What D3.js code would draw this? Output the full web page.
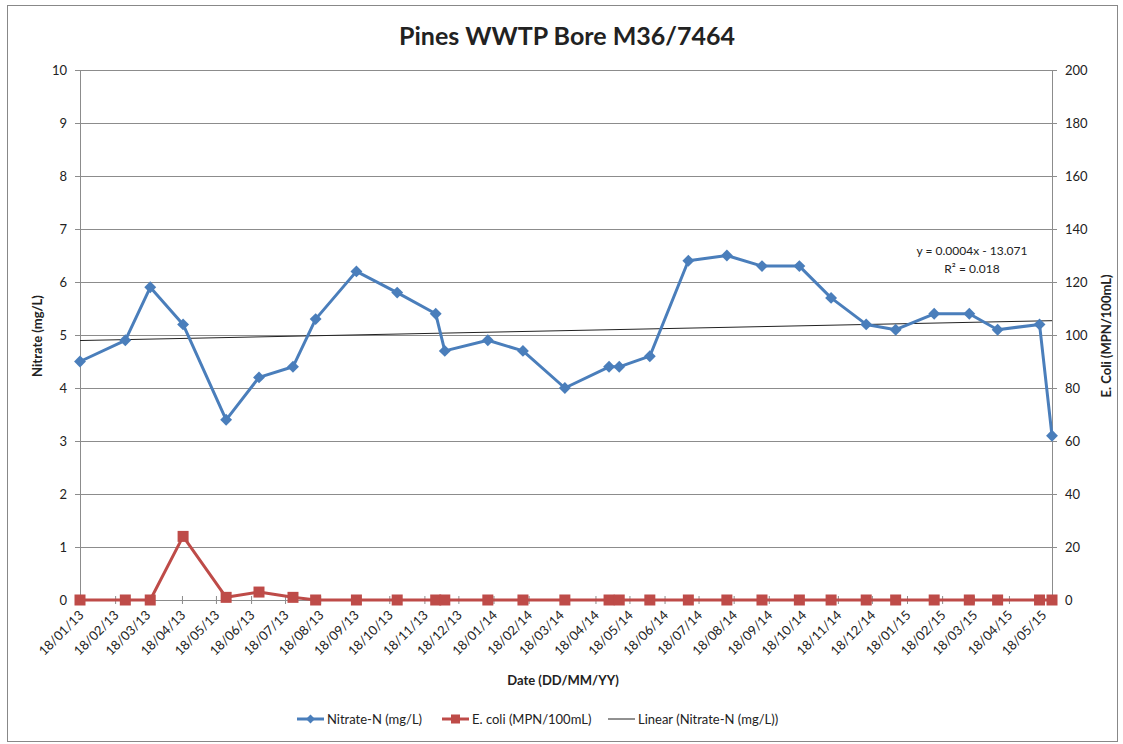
<!DOCTYPE html>
<html>
<head>
<meta charset="utf-8">
<script src="https://cdn.jsdelivr.net/npm/d3@7/dist/d3.min.js"></script>
<style>
	body { margin: 0; background: #fff; }
	text { font-family: Lato, "Open Sans", sans-serif; fill: #222; }
</style>
</head>
<body>
<svg id="chart" width="1123" height="744"></svg>
<script>
//sample dates (DD/MM/YY)
var dates = ['18/01/13','27/02/13','21/03/13','19/04/13','27/05/13','25/06/13','25/07/13','14/08/13',
	'19/09/13','25/10/13','28/11/13','06/12/13','13/01/14','13/02/14','22/03/14','30/04/14',
	'09/05/14','05/06/14','09/07/14','12/08/14','12/09/14','15/10/14','12/11/14','13/12/14',
	'08/01/15','11/02/15','14/03/15','08/04/15','15/05/15','26/05/15'];
//Nitrate-N (mg/L), left axis
var nitrate = [4.5,4.9,5.9,5.2,3.4,4.2,4.4,5.3,6.2,5.8,5.4,4.7,4.9,4.7,4.0,4.4,
	4.4,4.6,6.4,6.5,6.3,6.3,5.7,5.2,5.1,5.4,5.4,5.1,5.2,3.1];
//E. coli (MPN/100mL), right axis
var ecoli = [0,0,0,24,1,3,1,0,0,0,0,0,0,0,0,0,
	0,0,0,0,0,0,0,0,0,0,0,0,0,0];
//x axis tick labels
var xTickLabels = ['18/01/13','18/02/13','18/03/13','18/04/13','18/05/13','18/06/13','18/07/13',
	'18/08/13','18/09/13','18/10/13','18/11/13','18/12/13','18/01/14','18/02/14','18/03/14',
	'18/04/14','18/05/14','18/06/14','18/07/14','18/08/14','18/09/14','18/10/14','18/11/14',
	'18/12/14','18/01/15','18/02/15','18/03/15','18/04/15','18/05/15'];
var leftTicks = [0,1,2,3,4,5,6,7,8,9,10];
var rightTicks = [0,20,40,60,80,100,120,140,160,180,200];
var legendLabels = ['Nitrate-N (mg/L)', 'E. coli (MPN/100mL)', 'Linear (Nitrate-N (mg/L))'];

var blue = '#4a7ebb', red = '#be4b48';
var parse = d3.timeParse('%d/%m/%y');
var svg = d3.select('#chart');

var plot = {left: 80, right: 1052, top: 70, bottom: 600};

//outer chart border
svg.append('rect')
	.attr('x', 7.5).attr('y', 5.5)
	.attr('width', 1110).attr('height', 736)
	.style('fill', '#fff').style('stroke', '#888').style('stroke-width', 1);

var x = d3.scaleTime()
	.domain([parse(dates[0]), parse(dates[dates.length-1])])
	.range([plot.left, plot.right]);
var yL = d3.scaleLinear().domain([0, 10]).range([plot.bottom, plot.top]);
var yR = d3.scaleLinear().domain([0, 200]).range([plot.bottom, plot.top]);

//gridlines
svg.append('g')
	.attr('transform', 'translate(' + plot.left + ',0)')
	.call(d3.axisLeft(yL).tickValues(leftTicks).tickSize(-(plot.right-plot.left)).tickFormat(''))
	.call(g => g.select('.domain').remove())
	.call(g => g.selectAll('line').style('stroke', '#8c8c8c').style('stroke-width', 1));

//left axis
var gL = svg.append('g')
	.attr('transform', 'translate(' + plot.left + ',0)')
	.call(d3.axisLeft(yL).tickValues(leftTicks).tickSize(5).tickSizeOuter(0).tickPadding(8));
//right axis
var gR = svg.append('g')
	.attr('transform', 'translate(' + plot.right + ',0)')
	.call(d3.axisRight(yR).tickValues(rightTicks).tickSize(5).tickSizeOuter(0).tickPadding(8));
//bottom axis
var gB = svg.append('g')
	.attr('transform', 'translate(0,' + plot.bottom + ')')
	.call(d3.axisBottom(x).tickValues(xTickLabels.map(parse))
		.tickFormat(d3.timeFormat('%d/%m/%y')).tickSizeOuter(0));

[gL, gR, gB].forEach(function(g) {
	g.select('.domain').style('stroke', '#8c8c8c');
	g.selectAll('line').style('stroke', '#8c8c8c');
	g.selectAll('text').style('font-size', '13px').style('fill', '#222');
});
gB.selectAll('.tick line').attr('y1', -4).attr('y2', 4);
gB.selectAll('.tick text')
	.attr('text-anchor', 'end')
	.attr('dy', 0)
	.attr('y', 0)
	.attr('transform', 'translate(4,16) rotate(-45)');

//trendline: least squares of nitrate on date
var xs = dates.map(d => +parse(d));
var mx = d3.mean(xs), my = d3.mean(nitrate);
var slope = d3.sum(xs, (v, i) => (v-mx)*(nitrate[i]-my)) / d3.sum(xs, v => (v-mx)*(v-mx));
var icpt = my - slope*mx;
var trend = x.domain().map(d => ({d: d, v: icpt + slope*(+d)}));
svg.append('path')
	.attr('d', d3.line(p => x(p.d), p => yL(p.v))(trend))
	.style('fill', 'none').style('stroke', '#222').style('stroke-width', 1);

//E. coli series
var ecoliData = dates.map((d, i) => ({d: parse(d), v: ecoli[i]}));
svg.append('path')
	.attr('d', d3.line(p => x(p.d), p => yR(p.v))(ecoliData))
	.style('fill', 'none').style('stroke', red).style('stroke-width', 3)
	.style('stroke-linejoin', 'round');
svg.append('g').selectAll('rect')
	.data(ecoliData).join('rect')
	.attr('x', p => x(p.d) - 5.5).attr('y', p => yR(p.v) - 5.5)
	.attr('width', 11).attr('height', 11)
	.style('fill', red);

//Nitrate series
var nitData = dates.map((d, i) => ({d: parse(d), v: nitrate[i]}));
svg.append('path')
	.attr('d', d3.line(p => x(p.d), p => yL(p.v))(nitData))
	.style('fill', 'none').style('stroke', blue).style('stroke-width', 3)
	.style('stroke-linejoin', 'round');
var diamond = d3.symbol().type(d3.symbolDiamond2).size(90);
svg.append('g').selectAll('path')
	.data(nitData).join('path')
	.attr('d', diamond)
	.attr('transform', p => 'translate(' + x(p.d) + ',' + yL(p.v) + ')')
	.style('fill', blue);

//titles
svg.append('text')
	.attr('x', 567).attr('y', 45)
	.attr('text-anchor', 'middle')
	.style('font-size', '25px').style('font-weight', 'bold')
	.text('Pines WWTP Bore M36/7464');
svg.append('text')
	.attr('transform', 'translate(42,336) rotate(-90)')
	.attr('text-anchor', 'middle')
	.style('font-size', '13px').style('font-weight', 'bold')
	.text('Nitrate (mg/L)');
svg.append('text')
	.attr('transform', 'translate(1111,336) rotate(-90)')
	.attr('text-anchor', 'middle')
	.style('font-size', '13px').style('font-weight', 'bold')
	.text('E. Coli (MPN/100mL)');
svg.append('text')
	.attr('x', 563).attr('y', 685)
	.attr('text-anchor', 'middle')
	.style('font-size', '13px').style('font-weight', 'bold')
	.text('Date (DD/MM/YY)');

//trend equation
var eq = svg.append('text')
	.attr('text-anchor', 'middle')
	.style('font-size', '12px');
eq.append('tspan').attr('x', 972).attr('y', 255).text('y = 0.0004x  - 13.071');
eq.append('tspan').attr('x', 972).attr('y', 273).text('R² = 0.018');

//legend
var legX = [297, 442, 608];
var lg = svg.append('g').attr('transform', 'translate(0,719)');
legendLabels.forEach(function(lab, i) {
	var x0 = legX[i];
	var col = [blue, red, '#222'][i];
	lg.append('line')
		.attr('x1', x0).attr('x2', x0 + 27)
		.style('stroke', col).style('stroke-width', i < 2 ? 3 : 1);
	if (i == 0) {
		lg.append('path').attr('d', d3.symbol().type(d3.symbolDiamond2).size(50))
			.attr('transform', 'translate(' + (x0 + 13.5) + ',0)').style('fill', blue);
	} else if (i == 1) {
		lg.append('rect').attr('x', x0 + 9).attr('y', -4.5)
			.attr('width', 9).attr('height', 9).style('fill', red);
	}
	lg.append('text')
		.attr('x', x0 + 30).attr('y', 4.5)
		.style('font-size', '13px')
		.text(lab);
});
</script>
</body>
</html>
